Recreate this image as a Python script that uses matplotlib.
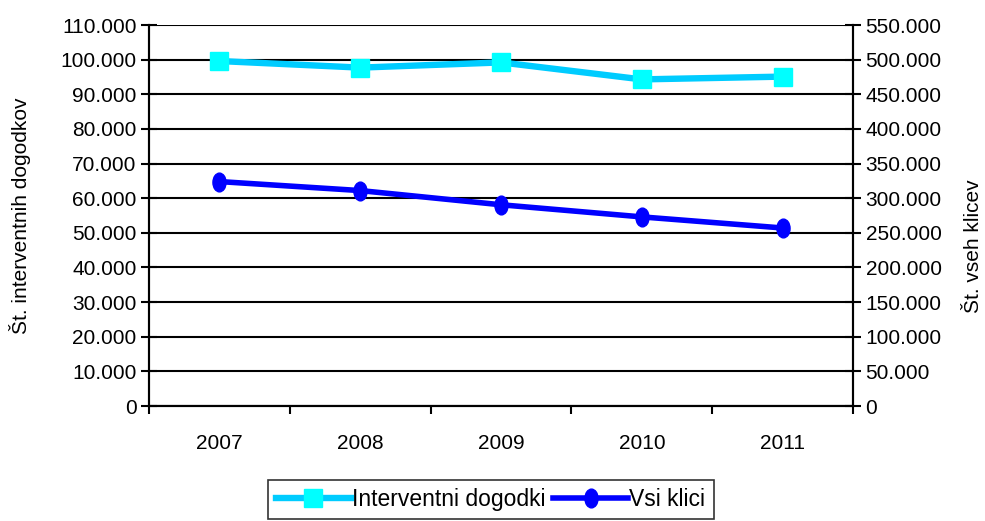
import matplotlib.pyplot as plt
from matplotlib.path import Path
from matplotlib.ticker import FuncFormatter, MultipleLocator, FixedLocator

plt.rcParams['font.family'] = ['Liberation Sans', 'DejaVu Sans']

# ── Data ──────────────────────────────────────────────────────────────────────
years = ["2007", "2008", "2009", "2010", "2011"]
interventni = [99600, 97700, 99200, 94300, 95100]
vsi_klici = [324000, 311000, 290500, 273000, 257000]

FS = 15


def thousands(v, pos):
    return f"{int(round(v)):,}".replace(",", ".")


# tall ellipse marker like the original
circ = Path.unit_circle()
ellipse = Path(circ.vertices * [0.7, 1.0], circ.codes)

fig = plt.figure(figsize=(9.85, 5.21), dpi=100)
ax = fig.add_axes([0.1513, 0.2207, 0.7147, 0.7313])
ax2 = ax.twinx()

x = [i + 0.5 for i in range(len(years))]

ax.plot(x, interventni, color="#00CCFF", linewidth=4.6, marker="s",
        markersize=13, markerfacecolor="#00FFFF", markeredgecolor="#00FFFF",
        label="Interventni dogodki", zorder=3)
ax2.plot(x, vsi_klici, color="#0000FF", linewidth=4, marker=ellipse,
         markersize=13.5, markerfacecolor="#0000FF", markeredgecolor="#0000FF",
         label="Vsi klici", zorder=3)

# ── Axes ──────────────────────────────────────────────────────────────────────
ax.set_xlim(0, 5)
ax.set_ylim(0, 110000)
ax2.set_ylim(0, 550000)
ax.yaxis.set_major_locator(MultipleLocator(10000))
ax2.yaxis.set_major_locator(MultipleLocator(50000))
ax.yaxis.set_major_formatter(FuncFormatter(thousands))
ax2.yaxis.set_major_formatter(FuncFormatter(thousands))

ax.xaxis.set_major_locator(FixedLocator(range(6)))
ax.xaxis.set_major_formatter(FuncFormatter(lambda v, p: ""))
ax.xaxis.set_minor_locator(FixedLocator(x))
ax.set_xticklabels(years, minor=True)
ax.tick_params(axis="x", which="major", direction="out", length=6, width=1.5)
ax.tick_params(axis="x", which="minor", length=0, pad=20, labelsize=FS)

ax.tick_params(axis="y", direction="inout", length=12, width=1.5, labelsize=FS, pad=3)
ax2.tick_params(axis="y", direction="inout", length=12, width=1.5, labelsize=FS, pad=3)

ax.grid(axis="y", color="black", linewidth=1.5)
ax.set_axisbelow(True)
for a in (ax, ax2):
    a.spines["top"].set_visible(False)
    for s in ("left", "right", "bottom"):
        a.spines[s].set_linewidth(1.5)

ax.set_ylabel("Št. interventnih dogodkov", fontsize=FS)
ax.yaxis.set_label_coords(-0.168, 0.5)
ax2.set_ylabel("Št. vseh klicev", fontsize=FS, rotation=90)
ax2.yaxis.set_label_coords(1.158, 0.42)

# ── Legend ────────────────────────────────────────────────────────────────────
h1, l1 = ax.get_legend_handles_labels()
h2, l2 = ax2.get_legend_handles_labels()
leg = fig.legend(h1 + h2, l1 + l2, loc="lower center", bbox_to_anchor=(0.498, 0.0),
                 ncol=2, fontsize=16.5, frameon=True, fancybox=False,
                 handlelength=3.3, handletextpad=0.05, columnspacing=0.3,
                 borderpad=0.35, borderaxespad=0.1)
leg.get_frame().set_edgecolor("black")
leg.get_frame().set_linewidth(1.2)

fig.savefig("out.png", dpi=100)
